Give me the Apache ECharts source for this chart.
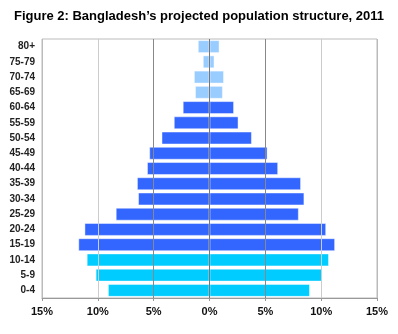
<!DOCTYPE html>
<html>
<head>
<meta charset="utf-8">
<script src="https://cdn.jsdelivr.net/npm/echarts@6/dist/echarts.min.js"></script>
<style>html,body{margin:0;padding:0;background:#fff}#c{width:398px;height:334px}</style>
</head>
<body>
<div id="c"></div>
<script>
var titleText = "Figure 2: Bangladesh\u2019s projected population structure, 2011";
var ageGroups = ['0-4','5-9','10-14','15-19','20-24','25-29','30-34','35-39','40-44','45-49','50-54','55-59','60-64','65-69','70-74','75-79','80+'];
var leftValues = [9.1, 10.2, 11.0, 11.75, 11.2, 8.4, 6.4, 6.5, 5.6, 5.4, 4.3, 3.2, 2.4, 1.3, 1.4, 0.6, 1.05];
var rightValues = [9.0, 10.1, 10.7, 11.25, 10.45, 8.0, 8.5, 8.2, 6.15, 5.2, 3.8, 2.6, 2.2, 1.2, 1.3, 0.45, 0.9];
var groupOf = ['child','child','child','adult','adult','adult','adult','adult','adult','adult','adult','adult','adult','old','old','old','old'];
var groupColors = {child:'#00CCFF', adult:'#3366FF', old:'#99CCFF'};

function items(vals, sign){
  return vals.map(function(v,i){
    return {value: sign*v, itemStyle:{color: groupColors[groupOf[i]]}};
  });
}
var chart = echarts.init(document.getElementById('c'), null, {renderer:'canvas'});
var font = 'Liberation Sans, Arial, sans-serif';
chart.setOption({
  animation:false,
  title:{text:titleText,left:'center',top:5,textStyle:{fontFamily:font,fontSize:13,fontWeight:'bold',color:'#000'}},
  grid:{left:42,right:21,top:39,bottom:36,show:true,borderColor:'#bbb',borderWidth:1},
  xAxis:{type:'value',min:-15,max:15,interval:5,z:5,
    axisLine:{show:true,lineStyle:{color:'#999'}},
    axisTick:{show:true,length:3,lineStyle:{color:'#999'}},
    axisLabel:{formatter:function(v){return Math.abs(v)+'%';},fontFamily:font,fontSize:11,fontWeight:'bold',color:'#111',margin:8},
    splitLine:{show:true,lineStyle:{color:['#bbb','#ccc','#888','#777','#888','#ccc','#bbb'],width:1}}
  },
  yAxis:{type:'category',data:ageGroups,
    axisLine:{show:false},axisTick:{show:false},
    axisLabel:{fontFamily:font,fontSize:10,fontWeight:'bold',color:'#222',margin:7}
  },
  series:[
    {type:'bar',data:items(leftValues,-1),stack:'p',barCategoryGap:'15%',itemStyle:{borderColor:'rgba(255,255,255,0.45)',borderWidth:1}},
    {type:'bar',data:items(rightValues,1),stack:'p',barCategoryGap:'15%',itemStyle:{borderColor:'rgba(255,255,255,0.45)',borderWidth:1}}
  ]
});
</script>
</body>
</html>
